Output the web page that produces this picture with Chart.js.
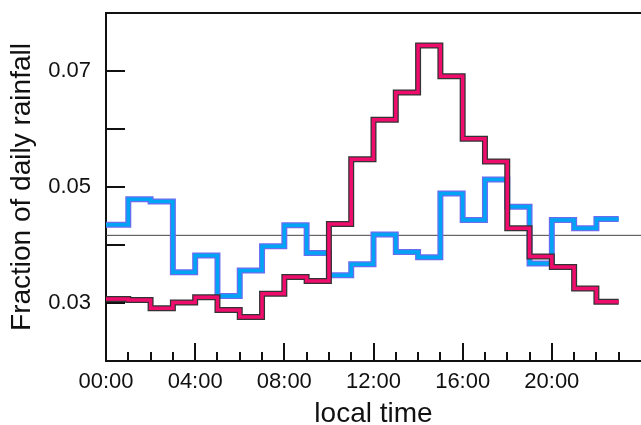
<!DOCTYPE html>
<html>
<head>
<meta charset="utf-8">
<script src="https://cdn.jsdelivr.net/npm/chart.js@4.4.0/dist/chart.umd.min.js"></script>
<style>
  html, body { margin: 0; padding: 0; background: #fff; }
</style>
</head>
<body>
<canvas id="rainChart" width="641" height="425"></canvas>
<script>
// hour at the start of each bin, every bin spans one hour
const hours = [0, 1, 2, 3, 4, 5, 6, 7, 8, 9, 10, 11, 12, 13, 14, 15, 16, 17, 18, 19, 20, 21, 22];
const blueFraction = [0.0435, 0.0479, 0.0475, 0.0353, 0.0382, 0.0312, 0.0356, 0.0398, 0.0434, 0.0386, 0.0348, 0.0367,
                      0.0418, 0.0388, 0.0379, 0.0489, 0.0443, 0.0513, 0.0466, 0.0368, 0.0443, 0.0429, 0.0445];
const pinkFraction = [0.0307, 0.0305, 0.0291, 0.0301, 0.0310, 0.0288, 0.0276, 0.0316, 0.0345, 0.0338, 0.0436, 0.0548,
                      0.0616, 0.0663, 0.0744, 0.0691, 0.0583, 0.0544, 0.0429, 0.0380, 0.0362, 0.0325, 0.0302];
const uniformLevel = 1 / 24;
const yTickLabels = ['0.03', '0.05', '0.07'];
const xTickLabels = ['00:00', '04:00', '08:00', '12:00', '16:00', '20:00'];

// step series: each value held until the end of its hour
function stepPoints(values) {
  const pts = values.map((v, i) => ({ x: hours[i], y: v }));
  const last = values.length - 1;
  pts.push({ x: hours[last] + 1, y: values[last] });
  return pts;
}

function hourLabel(h) {
  return String(h).padStart(2, '0') + ':00';
}

const stepStyle = {
  stepped: 'before',
  pointRadius: 0,
  fill: false,
  borderJoinStyle: 'miter',
  borderCapStyle: 'butt'
};

// top frame line + inward tick marks
const frameTicks = {
  id: 'frameTicks',
  afterDatasetsDraw(chart) {
    const { ctx, chartArea: a, scales: { x, y } } = chart;
    ctx.save();
    ctx.strokeStyle = '#111';
    ctx.lineWidth = 2;
    ctx.beginPath();
    ctx.moveTo(a.left, a.top);
    ctx.lineTo(a.right, a.top);
    y.ticks.forEach(t => {
      if (t.value <= y.min + 1e-6 || t.value >= y.max - 1e-6) return;
      const py = Math.round(y.getPixelForValue(t.value));
      ctx.moveTo(a.left, py);
      ctx.lineTo(a.left + 19, py);
    });
    x.ticks.forEach(t => {
      if (t.value <= x.min || t.value >= x.max) return;
      const px = Math.round(x.getPixelForValue(t.value));
      const len = t.value % 4 === 0 ? 18 : 9;
      ctx.moveTo(px, a.bottom);
      ctx.lineTo(px, a.bottom - len);
    });
    ctx.stroke();
    ctx.restore();
  }
};

new Chart(document.getElementById('rainChart'), {
  type: 'line',
  data: {
    datasets: [
      { ...stepStyle, data: stepPoints(pinkFraction), borderColor: '#ee0d6c', borderWidth: 3.5, order: 0 },
      { ...stepStyle, data: stepPoints(pinkFraction), borderColor: '#333333', borderWidth: 6, order: 1 },
      { ...stepStyle, data: stepPoints(blueFraction), borderColor: '#00a4f4', borderWidth: 3.5, order: 2 },
      { ...stepStyle, data: stepPoints(blueFraction), borderColor: '#6a6cf0', borderWidth: 6, order: 3 },
      {
        data: [{ x: 0, y: uniformLevel }, { x: 24, y: uniformLevel }],
        borderColor: '#444', borderWidth: 1, pointRadius: 0, fill: false, order: 4
      }
    ]
  },
  options: {
    responsive: false,
    animation: false,
    layout: { padding: { top: 13, right: 0, left: 0, bottom: 0 } },
    plugins: { legend: { display: false }, tooltip: { enabled: false } },
    scales: {
      x: {
        type: 'linear',
        min: 0,
        max: 24,
        afterFit: s => { s.height = 64; s.paddingLeft = 0; s.paddingRight = 0; },
        grid: { display: true, drawOnChartArea: false, drawTicks: false },
        border: { display: true, color: '#111', width: 2 },
        ticks: {
          stepSize: 1,
          autoSkip: false,
          maxRotation: 0,
          padding: 8,
          color: '#111',
          font: { family: 'Liberation Sans, Arial, sans-serif', size: 22 },
          callback: v => xTickLabels.includes(hourLabel(v)) ? hourLabel(v) : ''
        },
        title: {
          display: true,
          text: 'local time',
          color: '#111',
          font: { family: 'Liberation Sans, Arial, sans-serif', size: 28, lineHeight: 0.8 },
          padding: { top: 0, bottom: 0 }
        }
      },
      y: {
        min: 0.02,
        max: 0.08,
        afterFit: s => { s.width = 106; s.paddingTop = 0; s.paddingBottom = 0; },
        grid: { display: true, drawOnChartArea: false, drawTicks: false },
        border: { display: true, color: '#111', width: 2 },
        ticks: {
          stepSize: 0.01,
          padding: 15,
          color: '#111',
          font: { family: 'Liberation Sans, Arial, sans-serif', size: 22 },
          callback: v => yTickLabels.includes(v.toFixed(2)) ? v.toFixed(2) : ''
        },
        title: {
          display: true,
          text: 'Fraction of daily rainfall',
          color: '#111',
          font: { family: 'Liberation Sans, Arial, sans-serif', size: 28, lineHeight: 1.2 },
          padding: { top: 5, bottom: 0 }
        }
      }
    }
  },
  plugins: [frameTicks]
});
</script>
</body>
</html>
